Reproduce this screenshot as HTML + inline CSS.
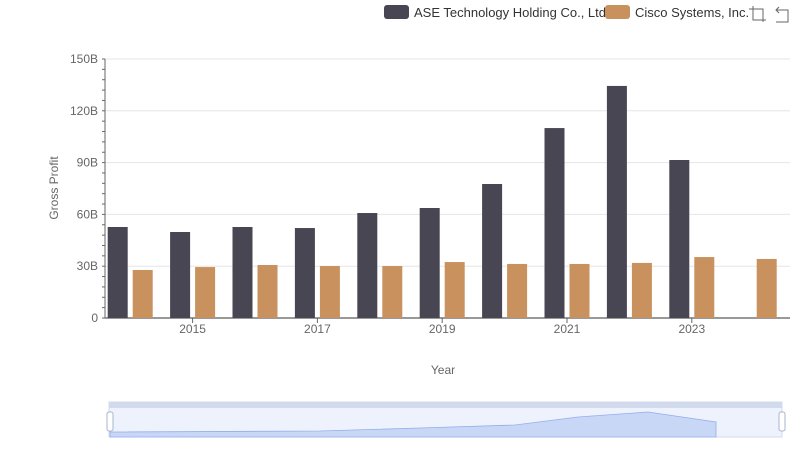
<!DOCTYPE html>
<html><head><meta charset="utf-8"><style>
body{margin:0;background:#fff;font-family:"Liberation Sans",sans-serif;}
svg text{font-family:"Liberation Sans",sans-serif;}
</style></head><body>
<svg id="c" width="800" height="461">
<g>
<g><rect x="384" y="5" width="25" height="14" rx="3" fill="#474652"/><text x="414" y="17" font-size="13" fill="#333">ASE Technology Holding Co., Ltd.</text></g>
<g><rect x="605" y="5" width="25" height="14" rx="3" fill="#c8915d"/><text x="635" y="17" font-size="13" fill="#333">Cisco Systems, Inc.</text></g>
</g>
<g stroke="#666" fill="none"><path d="M749 9h14v13M753 6v14h13"/></g>
<g stroke="#666" fill="none"><path d="M776 10h12v12h-12M779 7l-3 3 3 3"/></g>
<text transform="translate(58,188) rotate(-90)" text-anchor="middle" font-size="12" fill="#666">Gross Profit</text>
<text x="443" y="374" text-anchor="middle" font-size="12" fill="#666">Year</text>
<g id="grid"></g><g id="bars"></g><g id="axes"></g>
<g>
<rect x="109" y="402" width="673" height="35" fill="#eef2fd" stroke="#d2dbee"/>
<rect x="109" y="402" width="673" height="6" fill="#d2dbee"/>
<path d="M110 432 L320 431 L420 428 L515 425 L578 417 L648 412 L716 422 L716 437 L110 437Z" fill="#c9d7f7" stroke="#94adec" stroke-width="0.8"/>
<rect x="107" y="412" width="6" height="19" rx="2" fill="#fff" stroke="#a7b7cc"/>
<rect x="779" y="412" width="6" height="19" rx="2" fill="#fff" stroke="#a7b7cc"/>
</g>
</svg>
<script>
const years=["2014","2015","2016","2017","2018","2019","2020","2021","2022","2023","2024"];
const ase=[52.7,49.8,52.7,52.1,60.8,63.7,77.6,110,134.4,91.5,null];
const cisco=[27.8,29.5,30.7,30.1,30.1,32.4,31.3,31.3,31.9,35.3,34.2];
const yTicks=[0,30,60,90,120,150];
const yLabels=["0","30B","60B","90B","120B","150B"];
const NS="http://www.w3.org/2000/svg";
const x0=99,cw=62.4,y0=318,ymax=150,ph=259;
const ys=v=>y0-v/ymax*ph;
const xs=i=>x0+cw*i;
function mk(t,a,p){const e=document.createElementNS(NS,t);for(const k in a)e.setAttribute(k,a[k]);p.appendChild(e);return e;}
const grid=document.getElementById('grid'),bars=document.getElementById('bars'),axes=document.getElementById('axes');
yTicks.forEach((v,i)=>{
 const l=mk('line',{x1:105,x2:790,y1:ys(v),y2:ys(v),stroke:i?'#e6e6e6':'#333'},grid);
 
 
 const t=mk('text',{x:98,y:ys(v)+4,'text-anchor':'end','font-size':12,fill:'#666'},axes);
 t.textContent=yLabels[i];
 
 
});
for(let v=0;v<=ymax;v+=6){const m=mk('line',{x1:102,x2:105,y1:ys(v),y2:ys(v),stroke:'#666'},axes);
 
 }
mk('line',{x1:105,x2:105,y1:59,y2:318,stroke:'#666'},axes);
years.forEach((y,i)=>{
 const c=xs(i)+cw/2;
 if(ase[i]!=null){const b=mk('rect',{x:c-22.5,y:ys(ase[i]),width:20,height:y0-ys(ase[i]),fill:'#474652'},bars);
  
  }
 const b2=mk('rect',{x:c+2.5,y:ys(cisco[i]),width:20,height:y0-ys(cisco[i]),fill:'#c8915d'},bars);
 
 
 if(i%2==1){const t=mk('text',{x:c,y:333,'text-anchor':'middle','font-size':12,fill:'#666'},axes);
  t.textContent=y;
  
  
  const tk=mk('line',{x1:c,x2:c,y1:318,y2:323,stroke:'#666'},axes);
  
  }
});
</script>
</body></html>
